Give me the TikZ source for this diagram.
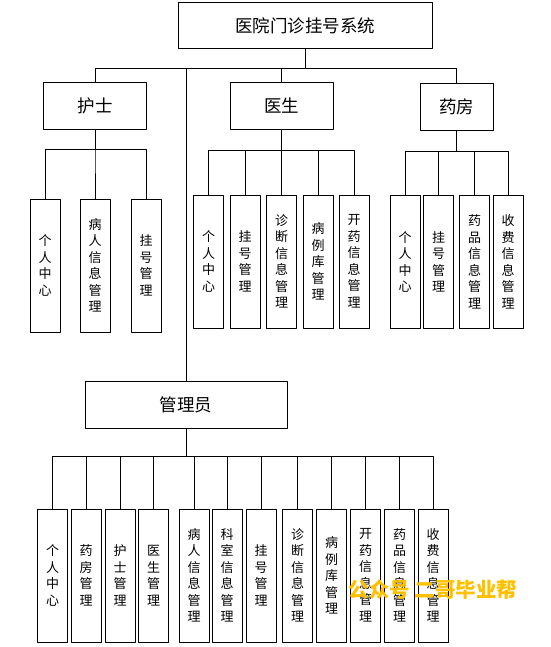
\documentclass[tikz,border=0pt]{standalone}
\usepackage{fontspec}
\setmainfont{Noto Sans CJK SC}
\definecolor{mark}{HTML}{FFC000}
\tikzset{
  topbox/.style={draw, line width=0.9pt, inner sep=0pt, font=\fontsize{17.5}{19}\selectfont},
  leafbox/.style={draw, line width=0.9pt, inner sep=0pt, minimum width=30, minimum height=133,
                  align=center, font=\fontsize{13}{16.5}\selectfont},
  link/.style={line width=0.9pt},
}
\begin{document}
\begin{tikzpicture}[x=1pt, y=-1pt, line join=round]
\useasboundingbox (0,0) rectangle (550,647);
% levels
\node[topbox, minimum width=254, minimum height=46] (sys)   at (305,25.5) {医院门诊挂号系统};
\node[topbox, minimum width=103, minimum height=47] (nurse) at (95,105.5)  {护士};
\node[topbox, minimum width=103, minimum height=47] (doc)   at (281.5,105.5) {医生};
\node[topbox, minimum width=73,  minimum height=47] (phar)  at (456.5,106.5) {药房};
\node[topbox, minimum width=202, minimum height=47] (admin) at (186,404.5) {管理员};
\coordinate (bus0) at (0,68);
\coordinate (busN) at (0,149);
\coordinate (busD) at (0,150);
\coordinate (busP) at (0,151);
\coordinate (busA) at (0,456.5);
% nurse
\node[leafbox] (n1) at (45,265.5)  {个\\人\\中\\心};
\node[leafbox] (n2) at (95,265.5)  {病\\人\\信\\息\\管\\理};
\node[leafbox] (n3) at (146,265.5) {挂\\号\\管\\理};
% doctor
\node[leafbox] (d1) at (208.5,261.5) {个\\人\\中\\心};
\node[leafbox] (d2) at (245,261.5)   {挂\\号\\管\\理};
\node[leafbox] (d3) at (281.5,261.5) {诊\\断\\信\\息\\管\\理};
\node[leafbox] (d4) at (318,261.5)   {病\\例\\库\\管\\理};
\node[leafbox] (d5) at (354,261.5)   {开\\药\\信\\息\\管\\理};
% pharmacy
\node[leafbox] (p1) at (405,262)   {个\\人\\中\\心};
\node[leafbox] (p2) at (438.5,262) {挂\\号\\管\\理};
\node[leafbox] (p3) at (474.5,262) {药\\品\\信\\息\\管\\理};
\node[leafbox] (p4) at (508,262)   {收\\费\\信\\息\\管\\理};
% admin
\node[leafbox] (a1)  at (52.5,575.5)  {个\\人\\中\\心};
\node[leafbox] (a2)  at (86,575.5)    {药\\房\\管\\理};
\node[leafbox] (a3)  at (120,575.5)   {护\\士\\管\\理};
\node[leafbox] (a4)  at (153.5,575.5) {医\\生\\管\\理};
\node[leafbox] (a5)  at (194,575.5)   {病\\人\\信\\息\\管\\理};
\node[leafbox] (a6)  at (227,575.5)   {科\\室\\信\\息\\管\\理};
\node[leafbox] (a7)  at (261,575.5)   {挂\\号\\管\\理};
\node[leafbox] (a8)  at (297.5,575.5) {诊\\断\\信\\息\\管\\理};
\node[leafbox] (a9)  at (331.5,575.5) {病\\例\\库\\管\\理};
\node[leafbox] (a10) at (365.5,575.5) {开\\药\\信\\息\\管\\理};
\node[leafbox] (a11) at (399.5,575.5) {药\\品\\信\\息\\管\\理};
\node[leafbox] (a12) at (433,575.5)   {收\\费\\信\\息\\管\\理};
% connectors
\draw[link] (sys.south) -- (sys.south |- bus0) -| (nurse.north);
\draw[link] (sys.south) -- (sys.south |- bus0) -| (doc.north);
\draw[link] (sys.south) -- (sys.south |- bus0) -| (phar.north);
\draw[link] (sys.south) -- (sys.south |- bus0) -| (admin.north);
\draw[link] (nurse.south) -- (nurse.south |- busN) -| (n1.north);
\draw[link] (nurse.south) -- (nurse.south |- busN) -| (n2.north);
\draw[link] (nurse.south) -- (nurse.south |- busN) -| (n3.north);
\draw[link] (doc.south) -- (doc.south |- busD) -| (d1.north);
\draw[link] (doc.south) -- (doc.south |- busD) -| (d2.north);
\draw[link] (doc.south) -- (doc.south |- busD) -| (d3.north);
\draw[link] (doc.south) -- (doc.south |- busD) -| (d4.north);
\draw[link] (doc.south) -- (doc.south |- busD) -| (d5.north);
\draw[link] (phar.south) -- (phar.south |- busP) -| (p1.north);
\draw[link] (phar.south) -- (phar.south |- busP) -| (p2.north);
\draw[link] (phar.south) -- (phar.south |- busP) -| (p3.north);
\draw[link] (phar.south) -- (phar.south |- busP) -| (p4.north);
\draw[link] (admin.south) -- (admin.south |- busA) -| (a1.north);
\draw[link] (admin.south) -- (admin.south |- busA) -| (a2.north);
\draw[link] (admin.south) -- (admin.south |- busA) -| (a3.north);
\draw[link] (admin.south) -- (admin.south |- busA) -| (a4.north);
\draw[link] (admin.south) -- (admin.south |- busA) -| (a5.north);
\draw[link] (admin.south) -- (admin.south |- busA) -| (a6.north);
\draw[link] (admin.south) -- (admin.south |- busA) -| (a7.north);
\draw[link] (admin.south) -- (admin.south |- busA) -| (a8.north);
\draw[link] (admin.south) -- (admin.south |- busA) -| (a9.north);
\draw[link] (admin.south) -- (admin.south |- busA) -| (a10.north);
\draw[link] (admin.south) -- (admin.south |- busA) -| (a11.north);
\draw[link] (admin.south) -- (admin.south |- busA) -| (a12.north);
% watermark
\node[text=mark, font=\fontsize{20.5}{22}\selectfont\bfseries, inner sep=0pt] (wm) at (433,590) {公众号 二哥毕业帮};
\end{tikzpicture}
\end{document}
